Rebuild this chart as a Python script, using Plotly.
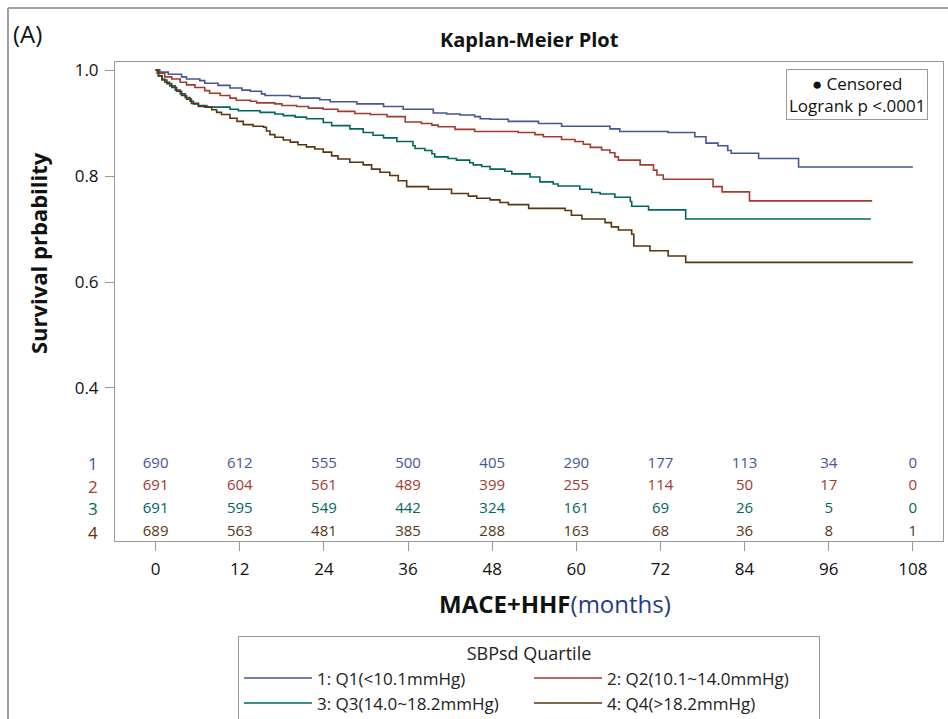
import plotly.graph_objects as go

# ---------------- data ----------------
groups = ["1: Q1(<10.1mmHg)", "2: Q2(10.1~14.0mmHg)", "3: Q3(14.0~18.2mmHg)", "4: Q4(>18.2mmHg)"]
row_labels = ["1", "2", "3", "4"]

q1_t = [0, 0.6, 1.8, 3.7, 4.4, 6.3, 7.0, 8.9, 10.6, 12.3, 13.5, 15.1, 15.6, 19.2, 20.6, 23.4, 24.9, 28.7, 32.5,
        35.3, 39.6, 41.5, 43.4, 45.5, 46.3, 47.7, 50.3, 54.6, 57.9, 64.8, 66.2, 73.1, 76.9, 78.5, 80.2, 81.6, 82.1,
        86.0, 91.7, 108]
q1_s = [1.0, 0.996, 0.992, 0.987, 0.983, 0.980, 0.975, 0.971, 0.966, 0.962, 0.960, 0.955, 0.952, 0.950, 0.947,
        0.944, 0.940, 0.936, 0.931, 0.926, 0.919, 0.917, 0.915, 0.912, 0.908, 0.907, 0.903, 0.899, 0.894, 0.889,
        0.884, 0.882, 0.874, 0.862, 0.857, 0.848, 0.843, 0.833, 0.817, 0.817]

q2_t = [0, 0.2, 1.3, 2.3, 3.5, 4.4, 5.6, 7.0, 7.7, 9.2, 10.6, 11.5, 13.5, 14.4, 17.0, 18.0, 20.1, 21.8, 23.9,
        26.0, 28.4, 30.6, 33.0, 35.6, 37.9, 39.4, 40.3, 42.7, 45.5, 51.7, 54.1, 55.3, 57.9, 59.8, 61.0, 62.0,
        63.6, 64.8, 65.5, 66.0, 69.1, 71.0, 71.5, 72.4, 79.5, 80.8, 84.7, 102.2]
q2_s = [1.0, 0.994, 0.987, 0.983, 0.977, 0.972, 0.967, 0.961, 0.956, 0.952, 0.947, 0.943, 0.941, 0.938, 0.936,
        0.933, 0.931, 0.928, 0.926, 0.922, 0.918, 0.916, 0.912, 0.902, 0.899, 0.896, 0.893, 0.888, 0.884, 0.882,
        0.878, 0.874, 0.869, 0.865, 0.860, 0.854, 0.849, 0.844, 0.836, 0.830, 0.821, 0.811, 0.802, 0.794, 0.780,
        0.770, 0.753, 0.753]

q3_t = [0, 0.4, 0.9, 1.3, 2.0, 2.8, 3.5, 4.2, 4.9, 5.4, 6.1, 7.3, 10.6, 11.8, 14.9, 17.0, 18.2, 19.9, 21.5, 23.9,
        25.1, 27.7, 29.6, 31.0, 32.5, 34.4, 36.7, 37.0, 38.4, 39.4, 39.8, 41.7, 42.9, 44.8, 45.3, 46.5, 47.7,
        49.8, 50.8, 53.4, 54.8, 56.7, 57.4, 60.5, 62.2, 63.4, 65.5, 67.7, 67.9, 70.3, 75.6, 102.0]
q3_s = [1.0, 0.989, 0.983, 0.977, 0.970, 0.962, 0.955, 0.948, 0.941, 0.936, 0.933, 0.930, 0.926, 0.923, 0.920,
        0.917, 0.914, 0.911, 0.908, 0.901, 0.895, 0.889, 0.882, 0.877, 0.872, 0.865, 0.857, 0.852, 0.848, 0.842,
        0.836, 0.833, 0.830, 0.825, 0.821, 0.818, 0.813, 0.809, 0.804, 0.798, 0.789, 0.785, 0.781, 0.775, 0.769,
        0.766, 0.760, 0.752, 0.743, 0.736, 0.719, 0.719]

q4_t = [0, 0.4, 0.9, 1.6, 2.3, 3.0, 3.7, 4.4, 5.1, 6.1, 7.0, 8.0, 8.7, 9.4, 10.6, 11.6, 12.5, 13.9, 15.4, 15.8,
        16.3, 17.0, 18.2, 19.2, 20.3, 21.5, 22.7, 23.9, 25.1, 26.0, 27.7, 29.6, 30.8, 32.0, 33.4, 34.6, 35.8,
        38.9, 42.2, 44.6, 45.8, 47.7, 49.1, 50.3, 53.2, 58.4, 59.3, 60.8, 64.1, 65.0, 66.0, 67.9, 68.2, 70.5,
        73.1, 75.6, 108]
q4_s = [1.0, 0.989, 0.981, 0.974, 0.967, 0.960, 0.952, 0.945, 0.937, 0.931, 0.930, 0.925, 0.920, 0.916, 0.909,
        0.903, 0.897, 0.894, 0.892, 0.885, 0.878, 0.873, 0.868, 0.864, 0.859, 0.855, 0.851, 0.845, 0.838, 0.832,
        0.826, 0.821, 0.813, 0.807, 0.801, 0.791, 0.780, 0.775, 0.767, 0.762, 0.758, 0.755, 0.750, 0.746, 0.739,
        0.735, 0.726, 0.719, 0.712, 0.704, 0.698, 0.690, 0.668, 0.659, 0.649, 0.637, 0.637]

risk_times = [0, 12, 24, 36, 48, 60, 72, 84, 96, 108]
risk_q1 = [690, 612, 555, 500, 405, 290, 177, 113, 34, 0]
risk_q2 = [691, 604, 561, 489, 399, 255, 114, 50, 17, 0]
risk_q3 = [691, 595, 549, 442, 324, 161, 69, 26, 5, 0]
risk_q4 = [689, 563, 481, 385, 288, 163, 68, 36, 8, 1]

x_ticks = [0, 12, 24, 36, 48, 60, 72, 84, 96, 108]
y_ticks = [0.4, 0.6, 0.8, 1.0]
y_ticktext = ["0.4", "0.6", "0.8", "1.0"]

# ---------------- style ----------------
colors = ["#445694", "#A23A2E", "#01665E", "#5a3510"]
FONT = "Open Sans, Arial, sans-serif"
W, H = 948, 719
ML, MR, MT, MB = 115, 5, 62, 178
PW, PH = W - ML - MR, H - MT - MB

def px_x(p):
    return (p - ML) / PW

def px_y(p):
    return (H - MB - p) / PH

curves = [(q1_t, q1_s), (q2_t, q2_s), (q3_t, q3_s), (q4_t, q4_s)]
risks = [risk_q1, risk_q2, risk_q3, risk_q4]
risk_rows_y = [0.257, 0.215, 0.172, 0.128]

fig = go.Figure()
for i, (t, s) in enumerate(curves):
    fig.add_trace(go.Scatter(x=t, y=s, mode="lines", line=dict(color=colors[i], width=1.6, shape="hv"),
                             name=groups[i], hoverinfo="skip"))

for i, r in enumerate(risks):
    fig.add_trace(go.Scatter(x=risk_times, y=[risk_rows_y[i]] * len(risk_times), mode="text",
                             text=[str(v) for v in r], textposition="middle center",
                             textfont=dict(family=FONT, size=15, color=colors[i]),
                             showlegend=False, hoverinfo="skip", cliponaxis=False))

annotations = []
for i, lab in enumerate(row_labels):
    annotations.append(dict(x=px_x(93), xref="paper", y=risk_rows_y[i], yref="y", text=lab, showarrow=False,
                            font=dict(family=FONT, size=17, color=colors[i]), xanchor="center", yanchor="middle"))

annotations += [
    dict(x=px_x(11), y=px_y(33), xref="paper", yref="paper", text="(A)", showarrow=False,
         font=dict(family=FONT, size=24, color="#111"), xanchor="left", yanchor="middle"),
    dict(x=0.5, y=px_y(40), xref="paper", yref="paper", text="<b>Kaplan-Meier Plot</b>", showarrow=False,
         font=dict(family=FONT, size=20, color="#111"), xanchor="center", yanchor="middle"),
    dict(x=px_x(38), y=px_y(253), xref="paper", yref="paper", text="<b>Survival prbability</b>", showarrow=False,
         textangle=-90, font=dict(family=FONT, size=22, color="#111"), xanchor="center", yanchor="middle"),
    dict(x=px_x(555), y=px_y(603), xref="paper", yref="paper",
         text="<b>MACE+HHF</b><span style='color:#1e3c8c'>(months)</span>", showarrow=False,
         font=dict(family=FONT, size=24, color="#111"), xanchor="center", yanchor="middle"),
    dict(x=px_x(928), y=px_y(69), xref="paper", yref="paper",
         text="● Censored<br>Logrank p <.0001", showarrow=False, align="center",
         font=dict(family=FONT, size=17, color="#111"), xanchor="right", yanchor="top",
         bordercolor="#999", borderwidth=1, borderpad=2, bgcolor="white"),
]

shapes = [
    dict(type="line", xref="paper", yref="paper", x0=px_x(8), x1=px_x(8), y0=px_y(8), y1=px_y(725),
         line=dict(color="#a0a0a0", width=2)),
    dict(type="line", xref="paper", yref="paper", x0=px_x(8), x1=px_x(955), y0=px_y(8), y1=px_y(8),
         line=dict(color="#a0a0a0", width=2)),
]

fig.update_layout(
    width=W, height=H,
    margin=dict(l=ML, r=MR, t=MT, b=MB, autoexpand=False),
    paper_bgcolor="white", plot_bgcolor="white",
    font=dict(family=FONT, color="#111"),
    annotations=annotations, shapes=shapes,
    showlegend=True,
    legend=dict(orientation="h", x=0.5, xanchor="center", y=px_y(636), yanchor="top",
                entrywidth=207, entrywidthmode="pixels",
                title=dict(text="SBPsd Quartile", side="top center", font=dict(family=FONT, size=18, color="#222")),
                font=dict(family=FONT, size=17, color="#222"),
                bordercolor="#999", borderwidth=1, bgcolor="white", tracegroupgap=0, itemwidth=68),
    xaxis=dict(range=[-5.8, 112.3], tickvals=x_ticks, ticktext=[str(v) for v in x_ticks],
               showgrid=False, zeroline=False, showline=True, linecolor="#999", linewidth=1, mirror=True,
               ticks="outside", ticklen=9, tickcolor="#999", ticklabelstandoff=4,
               tickfont=dict(family=FONT, size=17, color="#111")),
    yaxis=dict(range=[0.1113, 1.0151], tickvals=y_ticks, ticktext=y_ticktext,
               showgrid=False, zeroline=False, showline=True, linecolor="#999", linewidth=1, mirror=True,
               ticks="outside", ticklen=9, tickcolor="#999", ticklabelstandoff=3,
               tickfont=dict(family=FONT, size=17, color="#111")),
)

fig.write_html("out.html")
